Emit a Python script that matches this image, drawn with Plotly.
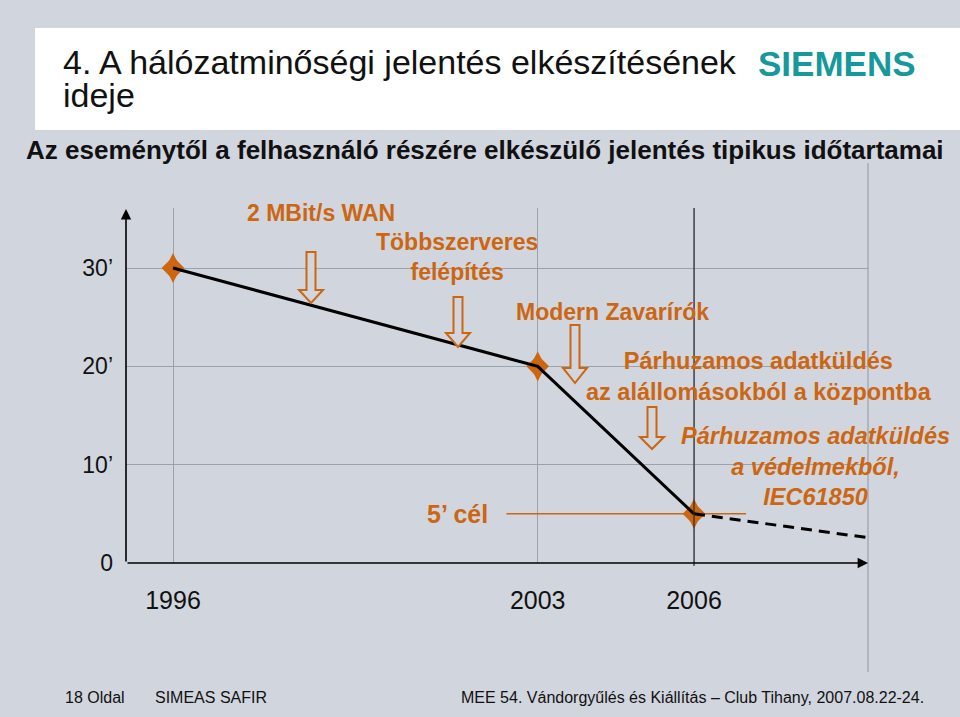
import plotly.graph_objects as go

# ---------------- data ----------------
years = [1996, 2003, 2006]
minutes = [30, 20, 5]
proj_years = [2006, 2009.3]
proj_minutes = [5, 2.6]
target_years = [2002.4, 2007.0]
target_minutes = [5, 5]
x_tickvals = [1996, 2003, 2006]
x_ticktext = ["1996", "2003", "2006"]
y_tickvals = [0, 10, 20, 30]
y_ticktext = ["0", "10\u2019", "20\u2019", "30\u2019"]

# ---------------- style ----------------
W, H = 960, 717
L, R, T, B = 126, 868, 208, 563          # plot area in pixels
BG = "#D1D5DE"
ORANGE = "#CC6611"
GRID = "#9AA2AC"
FONT = "Liberation Sans, Arial, sans-serif"

def px(xp):
    return (xp - L) / (R - L)

def py(yp):
    return (B - yp) / (B - T)

fig = go.Figure()

fig.add_trace(go.Scatter(x=target_years, y=target_minutes, mode="lines",
                         line=dict(color=ORANGE, width=1.5), hoverinfo="skip",
                         showlegend=False, cliponaxis=False))
# diamond markers (tall + regular union gives a ~20x30 rhombus look)
fig.add_trace(go.Scatter(x=years, y=minutes, mode="markers",
                         marker=dict(symbol="diamond-tall", size=21.5, color=ORANGE,
                                     line=dict(width=0)),
                         showlegend=False, cliponaxis=False))
fig.add_trace(go.Scatter(x=years, y=minutes, mode="markers",
                         marker=dict(symbol="diamond", size=17.5, color=ORANGE,
                                     line=dict(width=0)),
                         showlegend=False, cliponaxis=False))
fig.add_trace(go.Scatter(x=years, y=minutes, mode="lines",
                         line=dict(color="black", width=3),
                         showlegend=False, cliponaxis=False))
fig.add_trace(go.Scatter(x=proj_years, y=proj_minutes, mode="lines",
                         line=dict(color="black", width=3, dash="11px,7px"),
                         showlegend=False, cliponaxis=False))

shapes = []
# white title box
shapes.append(dict(type="rect", xref="paper", yref="paper",
                   x0=px(35), x1=px(962), y0=py(130), y1=py(28),
                   fillcolor="white", line=dict(width=0), layer="below"))
# dark 2006 vertical line
shapes.append(dict(type="line", xref="x", yref="paper", x0=2006, x1=2006,
                   y0=py(566), y1=1, line=dict(color="#2A2A2A", width=1.2)))
# right border line
shapes.append(dict(type="line", xref="paper", yref="paper", x0=1, x1=1,
                   y0=py(672), y1=py(163), line=dict(color=GRID, width=1.2)))

# hollow down arrows (cx, top, head start, bottom)
arrows = [(311, 252, 290, 303), (458, 297, 333, 347),
          (575, 325, 368, 383), (652, 407, 437, 449)]
for cx, y0, y1, y2 in arrows:
    sw, hw = 4.5, 12
    pts = [(cx - sw, y0), (cx + sw, y0), (cx + sw, y1), (cx + hw, y1),
           (cx, y2), (cx - hw, y1), (cx - sw, y1)]
    path = "M " + " L ".join(f"{px(a):.5f},{py(b):.5f}" for a, b in pts) + " Z"
    shapes.append(dict(type="path", xref="paper", yref="paper", path=path,
                       fillcolor=BG, line=dict(color=ORANGE, width=2)))

ann = []

def text(xp, yp, s, size, color="black", bold=False, italic=False, anchor="center"):
    if bold:
        s = f"<b>{s}</b>"
    if italic:
        s = f"<i>{s}</i>"
    ann.append(dict(x=px(xp), y=py(yp), xref="paper", yref="paper", text=s,
                    showarrow=False, xanchor=anchor, yanchor="middle",
                    font=dict(family=FONT, size=size, color=color)))

# titles
text(61, 62, "4. A hálózatminőségi jelentés elkészítésének", 34, "#111111", anchor="left")
text(61, 95, "ideje", 34, "#111111", anchor="left")
text(756, 63, "SIEMENS", 35, "#16999A", bold=True, anchor="left")
text(24, 150, "Az eseménytől a felhasználó részére elkészülő jelentés tipikus időtartamai",
     26, "#111111", bold=True, anchor="left")

# chart annotations
text(321, 213, "2 MBit/s WAN", 23, ORANGE, bold=True)
text(457, 257, "Többszerveres<br>felépítés", 23, ORANGE, bold=True)
text(612, 312, "Modern Zavarírók", 23, ORANGE, bold=True)
text(759, 376, "Párhuzamos adatküldés<br>az alállomásokból a központba", 23.5, ORANGE, bold=True)
text(815, 466, "Párhuzamos adatküldés<br>a védelmekből,<br>IEC61850", 23.5, ORANGE,
     bold=True, italic=True)
text(457, 514, "5\u2019 cél", 25, ORANGE, bold=True)

# footer
text(63, 697, "18 Oldal", 16, "#111111", anchor="left")
text(153, 697, "SIMEAS SAFIR", 16, "#111111", anchor="left")
text(459, 697, "MEE 54. Vándorgyűlés és Kiállítás \u2013 Club Tihany, 2007.08.22-24.",
     16, "#111111", anchor="left")

# axis arrows
ann.append(dict(x=0, y=py(209), xref="paper", yref="paper", text="", showarrow=True,
                ax=0, ay=B - 209, axref="pixel", ayref="pixel",
                arrowhead=2, arrowsize=1.3, arrowwidth=1.6, arrowcolor="black"))
ann.append(dict(x=1, y=0, xref="paper", yref="paper", text="", showarrow=True,
                ax=-(R - L), ay=0, axref="pixel", ayref="pixel",
                arrowhead=2, arrowsize=1.3, arrowwidth=1.6, arrowcolor="black"))

px_per_year = 52.1
x0 = 1996 - (173 - L) / px_per_year
x1 = x0 + (R - L) / px_per_year
px_per_min = 9.833
y1 = (B - T) / px_per_min

fig.update_layout(
    width=W, height=H,
    margin=dict(l=L, r=W - R, t=T, b=H - B, pad=0),
    paper_bgcolor=BG, plot_bgcolor=BG,
    showlegend=False,
    shapes=shapes, annotations=ann,
    font=dict(family=FONT),
    xaxis=dict(range=[x0, x1], tickvals=x_tickvals, ticktext=x_ticktext,
               showgrid=True, gridcolor=GRID, gridwidth=1, zeroline=False,
               showline=False, ticks="", ticklabelstandoff=20,
               tickfont=dict(size=25, color="#111111", family=FONT), fixedrange=True),
    yaxis=dict(range=[0, y1], tickvals=y_tickvals, ticktext=y_ticktext,
               showgrid=True, gridcolor=GRID, gridwidth=1, zeroline=False,
               showline=False, ticks="", ticklabelstandoff=12,
               tickfont=dict(size=23, color="#111111", family=FONT), fixedrange=True),
)

fig.write_html("out.html")
